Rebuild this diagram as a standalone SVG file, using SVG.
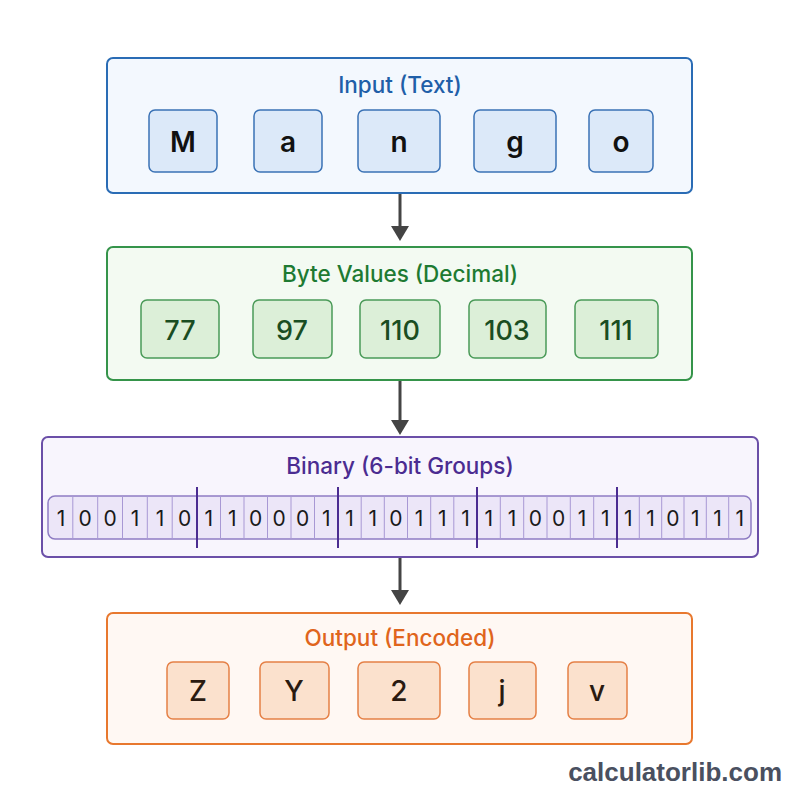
<svg xmlns="http://www.w3.org/2000/svg" width="800" height="800" viewBox="0 0 800 800">
<defs>
<style>
text{font-family:Inter,"Liberation Sans",Arial,sans-serif;text-anchor:middle;dominant-baseline:central}
.title{font-size:22.5px;font-weight:500}
.big{font-size:28px;font-weight:600}
.bit{font-size:21px;font-weight:400;fill:#1a1a1a}
.conn{stroke:#444;stroke-width:3;fill:none}
.cell{stroke:#a898d4;stroke-width:1}
.div{stroke:#4b2c91;stroke-width:2}
</style>
</defs>
<rect width="800" height="800" fill="#ffffff"/>

<g id="connectors">
<line class="conn" x1="400" y1="194" x2="400" y2="228"/><path d="M391,226 L409,226 L400,241 Z" fill="#444"/>
<line class="conn" x1="400" y1="381" x2="400" y2="422"/><path d="M391,420 L409,420 L400,435 Z" fill="#444"/>
<line class="conn" x1="400" y1="558" x2="400" y2="592"/><path d="M391,590 L409,590 L400,605 Z" fill="#444"/>
</g>

<g id="input">
<rect x="107" y="58" width="585" height="135" rx="6" fill="#f3f8fe" stroke="#2a6cb5" stroke-width="2"/>
<text class="title" x="400" y="84" fill="#1f5fa8">Input (Text)</text>
<g fill="#dce9f9" stroke="#3a72b5" stroke-width="1.5">
<rect x="149" y="110" width="68" height="62" rx="6"/>
<rect x="254" y="110" width="68" height="62" rx="6"/>
<rect x="358" y="110" width="82" height="62" rx="6"/>
<rect x="474" y="110" width="82" height="62" rx="6"/>
<rect x="589" y="110" width="64" height="62" rx="6"/>
</g>
<g class="big" fill="#111">
<text x="183" y="142">M</text>
<text x="288" y="142">a</text>
<text x="399" y="142">n</text>
<text x="515" y="142">g</text>
<text x="621" y="142">o</text>
</g>
</g>

<g id="bytes">
<rect x="107" y="247" width="585" height="133" rx="6" fill="#f3faf2" stroke="#35944a" stroke-width="2"/>
<text class="title" x="400" y="273" fill="#1e7a32">Byte Values (Decimal)</text>
<g fill="#dcefd8" stroke="#4a9a58" stroke-width="1.5">
<rect x="141" y="300" width="78" height="58" rx="6"/>
<rect x="253" y="300" width="79" height="58" rx="6"/>
<rect x="360" y="300" width="80" height="58" rx="6"/>
<rect x="469" y="300" width="77" height="58" rx="6"/>
<rect x="575" y="300" width="83" height="58" rx="6"/>
</g>
<g class="big" fill="#1a4d22" style="font-size:27px;font-weight:500">
<text x="180" y="330">77</text>
<text x="292" y="330">97</text>
<text x="400" y="330">110</text>
<text x="507" y="330">103</text>
<text x="616" y="330">111</text>
</g>
</g>

<g id="binary">
<rect x="42" y="437" width="716" height="120" rx="6" fill="#f8f5fd" stroke="#6b4fa8" stroke-width="2"/>
<text class="title" x="400" y="465" fill="#4b2c91">Binary (6-bit Groups)</text>
<rect x="48" y="496" width="703" height="43" rx="7" fill="#ece6f8" stroke="#8e7cc3" stroke-width="1.5"/>
<g class="cell">
<line x1="72.8" y1="496" x2="72.8" y2="539"/><line x1="97.7" y1="496" x2="97.7" y2="539"/><line x1="122.5" y1="496" x2="122.5" y2="539"/><line x1="147.3" y1="496" x2="147.3" y2="539"/><line x1="172.2" y1="496" x2="172.2" y2="539"/>
<line x1="220.5" y1="496" x2="220.5" y2="539"/><line x1="244" y1="496" x2="244" y2="539"/><line x1="267.5" y1="496" x2="267.5" y2="539"/><line x1="291" y1="496" x2="291" y2="539"/><line x1="314.5" y1="496" x2="314.5" y2="539"/>
<line x1="361.2" y1="496" x2="361.2" y2="539"/><line x1="384.3" y1="496" x2="384.3" y2="539"/><line x1="407.5" y1="496" x2="407.5" y2="539"/><line x1="430.7" y1="496" x2="430.7" y2="539"/><line x1="453.8" y1="496" x2="453.8" y2="539"/>
<line x1="500.3" y1="496" x2="500.3" y2="539"/><line x1="523.7" y1="496" x2="523.7" y2="539"/><line x1="547" y1="496" x2="547" y2="539"/><line x1="570.3" y1="496" x2="570.3" y2="539"/><line x1="593.7" y1="496" x2="593.7" y2="539"/>
<line x1="639.3" y1="496" x2="639.3" y2="539"/><line x1="661.7" y1="496" x2="661.7" y2="539"/><line x1="684" y1="496" x2="684" y2="539"/><line x1="706.3" y1="496" x2="706.3" y2="539"/><line x1="728.7" y1="496" x2="728.7" y2="539"/>
</g>
<g class="div">
<line x1="197" y1="487" x2="197" y2="548"/>
<line x1="338" y1="487" x2="338" y2="548"/>
<line x1="477" y1="487" x2="477" y2="548"/>
<line x1="617" y1="487" x2="617" y2="548"/>
</g>
<g class="bit">
<text x="61" y="518">1</text><text x="85" y="518">0</text><text x="110" y="518">0</text><text x="135" y="518">1</text><text x="160" y="518">1</text><text x="184.5" y="518">0</text>
<text x="208.7" y="518">1</text><text x="232.2" y="518">1</text><text x="255.7" y="518">0</text><text x="279.2" y="518">0</text><text x="302.7" y="518">0</text><text x="326.2" y="518">1</text>
<text x="349.6" y="518">1</text><text x="372.8" y="518">1</text><text x="395.9" y="518">0</text><text x="419.1" y="518">1</text><text x="442.2" y="518">1</text><text x="465.4" y="518">1</text>
<text x="488.7" y="518">1</text><text x="512" y="518">1</text><text x="535.3" y="518">0</text><text x="558.7" y="518">0</text><text x="582" y="518">1</text><text x="605.3" y="518">1</text>
<text x="628.2" y="518">1</text><text x="650.5" y="518">1</text><text x="672.8" y="518">0</text><text x="695.2" y="518">1</text><text x="717.5" y="518">1</text><text x="739.8" y="518">1</text>
</g>
</g>

<g id="output">
<rect x="107" y="613" width="585" height="131" rx="6" fill="#fff8f3" stroke="#e8782e" stroke-width="2"/>
<text class="title" x="400" y="637" fill="#e0651c">Output (Encoded)</text>
<g fill="#fbe1cd" stroke="#e58046" stroke-width="1.5">
<rect x="167" y="662" width="62" height="57" rx="6"/>
<rect x="260" y="662" width="69" height="57" rx="6"/>
<rect x="358" y="662" width="82" height="57" rx="6"/>
<rect x="469" y="662" width="67" height="57" rx="6"/>
<rect x="568" y="662" width="59" height="57" rx="6"/>
</g>
<g class="big" fill="#2a1a10" style="font-weight:500">
<text x="198" y="691">Z</text>
<text x="294" y="691">Y</text>
<text x="399" y="691">2</text>
<text x="502" y="691">j</text>
<text x="597" y="691">v</text>
</g>
</g>

<text x="782" y="772" style="text-anchor:end;font-size:26px;font-weight:700;font-family:'Liberation Sans',Arial,sans-serif" fill="#4a5060">calculatorlib.com</text>
</svg>
